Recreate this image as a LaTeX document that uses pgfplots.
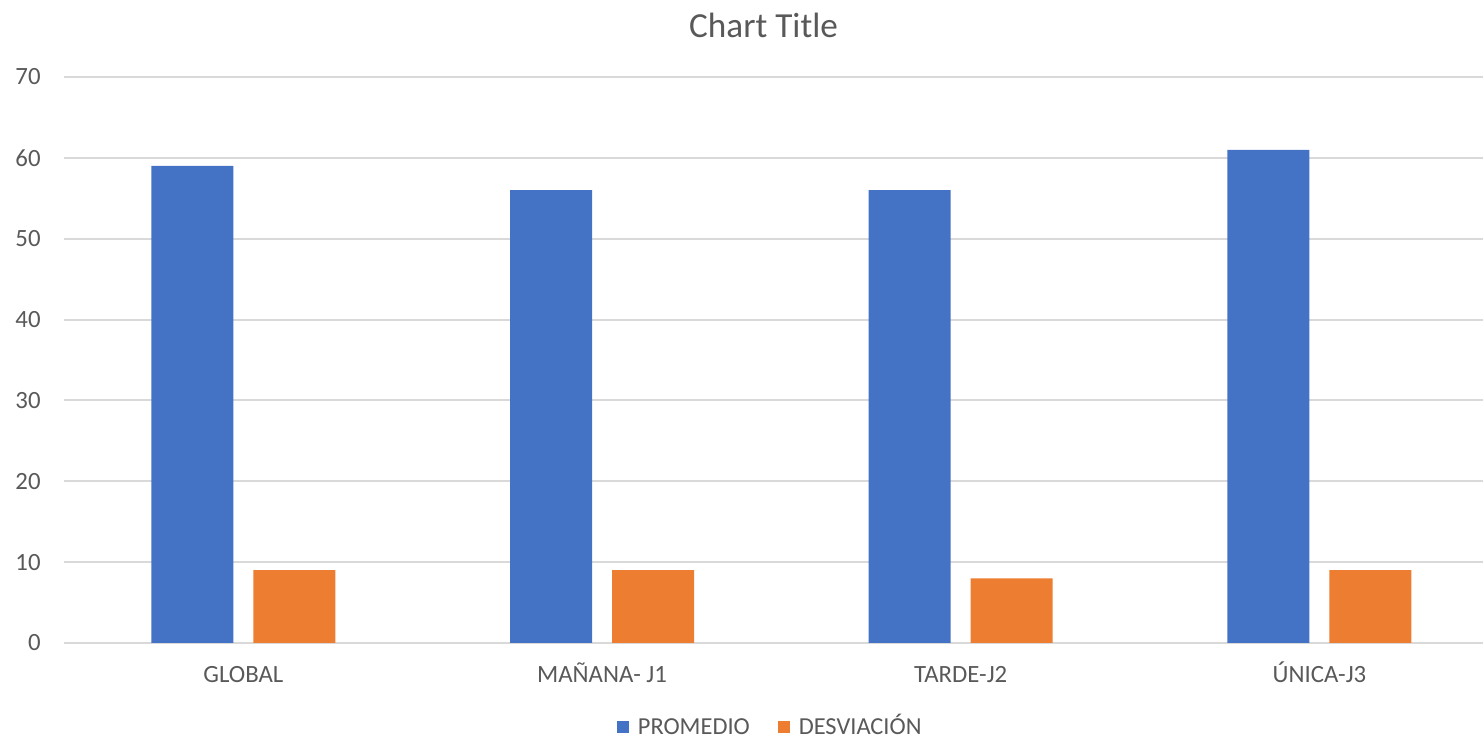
\documentclass[border=0pt]{standalone}
\usepackage{fontspec}
\setmainfont{Carlito}
\usepackage{pgfplots}
\pgfplotsset{compat=1.18}
\definecolor{barBlue}{RGB}{68,114,196}
\definecolor{barOrange}{RGB}{237,125,49}
\definecolor{gridGray}{RGB}{217,217,217}
\definecolor{textGray}{RGB}{89,89,89}

\begin{document}
\begin{tikzpicture}
    \begin{axis}[
        scale only axis,
        width=709.5pt, height=283pt,
        xmin=-0.5, xmax=3.456,
        ymin=0, ymax=70,
        ytick={0,10,...,70},
        xtick=data,
        xticklabels={GLOBAL, MAÑANA- J1, TARDE-J2, ÚNICA-J3},
        ybar=10pt, bar width=41pt,
        axis line style={draw=none},
        major tick length=0pt,
        ymajorgrids,
        grid style={gridGray, line width=1pt},
        tick label style={font=\fontsize{12.4}{14}\selectfont, text=textGray},
        /pgf/number format/assume math mode=true,
        yticklabel style={anchor=east, inner sep=0pt, xshift=-11.5pt},
        xticklabel style={anchor=base, inner sep=0pt, yshift=-19.8pt},
        title={Chart Title},
        title style={at={(0.493,1)}, anchor=base, yshift=13.5pt, inner sep=0pt,
            text=textGray, font=\fontsize{17.6}{20}\selectfont},
        legend columns=-1,
        legend style={draw=none, at={(0.497,-0.145)}, anchor=center,
            font=\fontsize{12.2}{14}\selectfont, text=textGray,
            nodes={inner sep=0pt, text height=9pt, text depth=0pt},
            /tikz/every odd column/.append style={column sep=4.5pt},
            /tikz/every even column/.append style={column sep=14pt}},
        legend image code/.code={\fill[#1] (0pt,-3.75pt) rectangle (6pt,2.25pt);},
    ]
    % PROMEDIO
    \addplot[fill=barBlue, draw=none] coordinates {(0,59) (1,56) (2,56) (3,61)};
    \addlegendentry{PROMEDIO}
    % DESVIACION
    \addplot[fill=barOrange, draw=none] coordinates {(0,9) (1,9) (2,8) (3,9)};
    \addlegendentry{DESVIACIÓN}
    \end{axis}
    \pgfresetboundingbox
    \path ([shift={(-32pt,-48.5pt)}]current axis.south west)
        rectangle ([shift={(0pt,38.5pt)}]current axis.north east);
\end{tikzpicture}
\end{document}
